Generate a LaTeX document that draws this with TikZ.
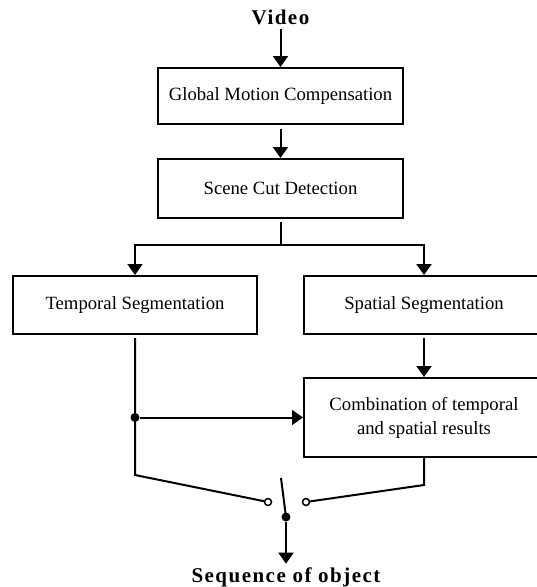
\documentclass[tikz,border=0pt]{standalone}
\usepackage{fontspec}
\setmainfont{Liberation Serif}
\newfontfamily\spacedfont[LetterSpace=7]{Liberation Serif}
\usetikzlibrary{positioning,arrows.meta}

\tikzset{
    box/.style={draw, line width=2pt, inner sep=0pt, minimum height=58pt, align=center, font=\fontsize{18.7}{24}\selectfont},
    title/.style={inner sep=0pt, font=\fontsize{21}{24}\spacedfont\bfseries},
    dot/.style={circle, fill=black, inner sep=0pt, minimum size=9pt},
    tap/.style={circle, draw, fill=white, line width=1.5pt, inner sep=0pt, minimum size=7pt},
    wire/.style={line width=2pt},
    flow/.style={wire, -{Triangle[width=15pt,length=11pt]}}
}

\begin{document}
\begin{tikzpicture}[x=1pt, y=1pt]
    \clip (0,0) rectangle (537,-587);

    % processing chain
    \node[box, minimum width=245pt, minimum height=56pt] (gmc) at (280.5,-96) {Global Motion Compensation};
    \node[title, above=42pt of gmc] (video) {Video};
    \node[box, minimum width=245pt, minimum height=59pt, below=33pt of gmc] (scd) {Scene Cut Detection};
    \node[box, minimum width=244pt, below=56pt of scd, xshift=-145.5pt] (tseg) {Temporal Segmentation};
    \node[box, minimum width=240pt, right=45pt of tseg] (sseg) {Spatial Segmentation};
    \node[box, minimum width=240pt, minimum height=79pt, below=42pt of sseg] (comb) {Combination of temporal\\and spatial results};

    \draw[flow, shorten <=4pt] (video) -- (gmc);
    \draw[flow, shorten <=4pt] (gmc) -- (scd);

    % split into the two branches
    \coordinate (fork) at ([yshift=-26pt]scd.south);
    \draw[wire, shorten <=3pt] (scd.south) -- (fork);
    \draw[flow] (fork) -| (tseg.north);
    \draw[flow] (fork) -| (sseg.north);
    \draw[flow, shorten <=3pt] (sseg.south) -- (comb.north);

    % switch
    \node[dot] (sw) at (286,-517) {};
    \node[tap] (tapl) at (268,-502) {};
    \node[tap] (tapr) at (306,-502) {};
    \coordinate (lever) at (281,-478);
    \coordinate (tknee) at ([yshift=-140pt]tseg.south);
    \coordinate (cknee) at ([yshift=-27pt]comb.south);

    \draw[wire, shorten <=3pt] (tseg.south) -- (tknee) -- (tapl);
    \draw[wire] (comb.south) -- (cknee) -- (tapr);
    \draw[wire] (lever) -- (sw.center);

    \node[dot] (join) at (tseg.south |- comb.west) {};
    \draw[flow] (join) -- (comb.west);

    \node[title, below=46pt of sw] (out) {Sequence of object};
    \draw[flow, shorten >=4pt] (sw) -- (out);
\end{tikzpicture}
\end{document}
